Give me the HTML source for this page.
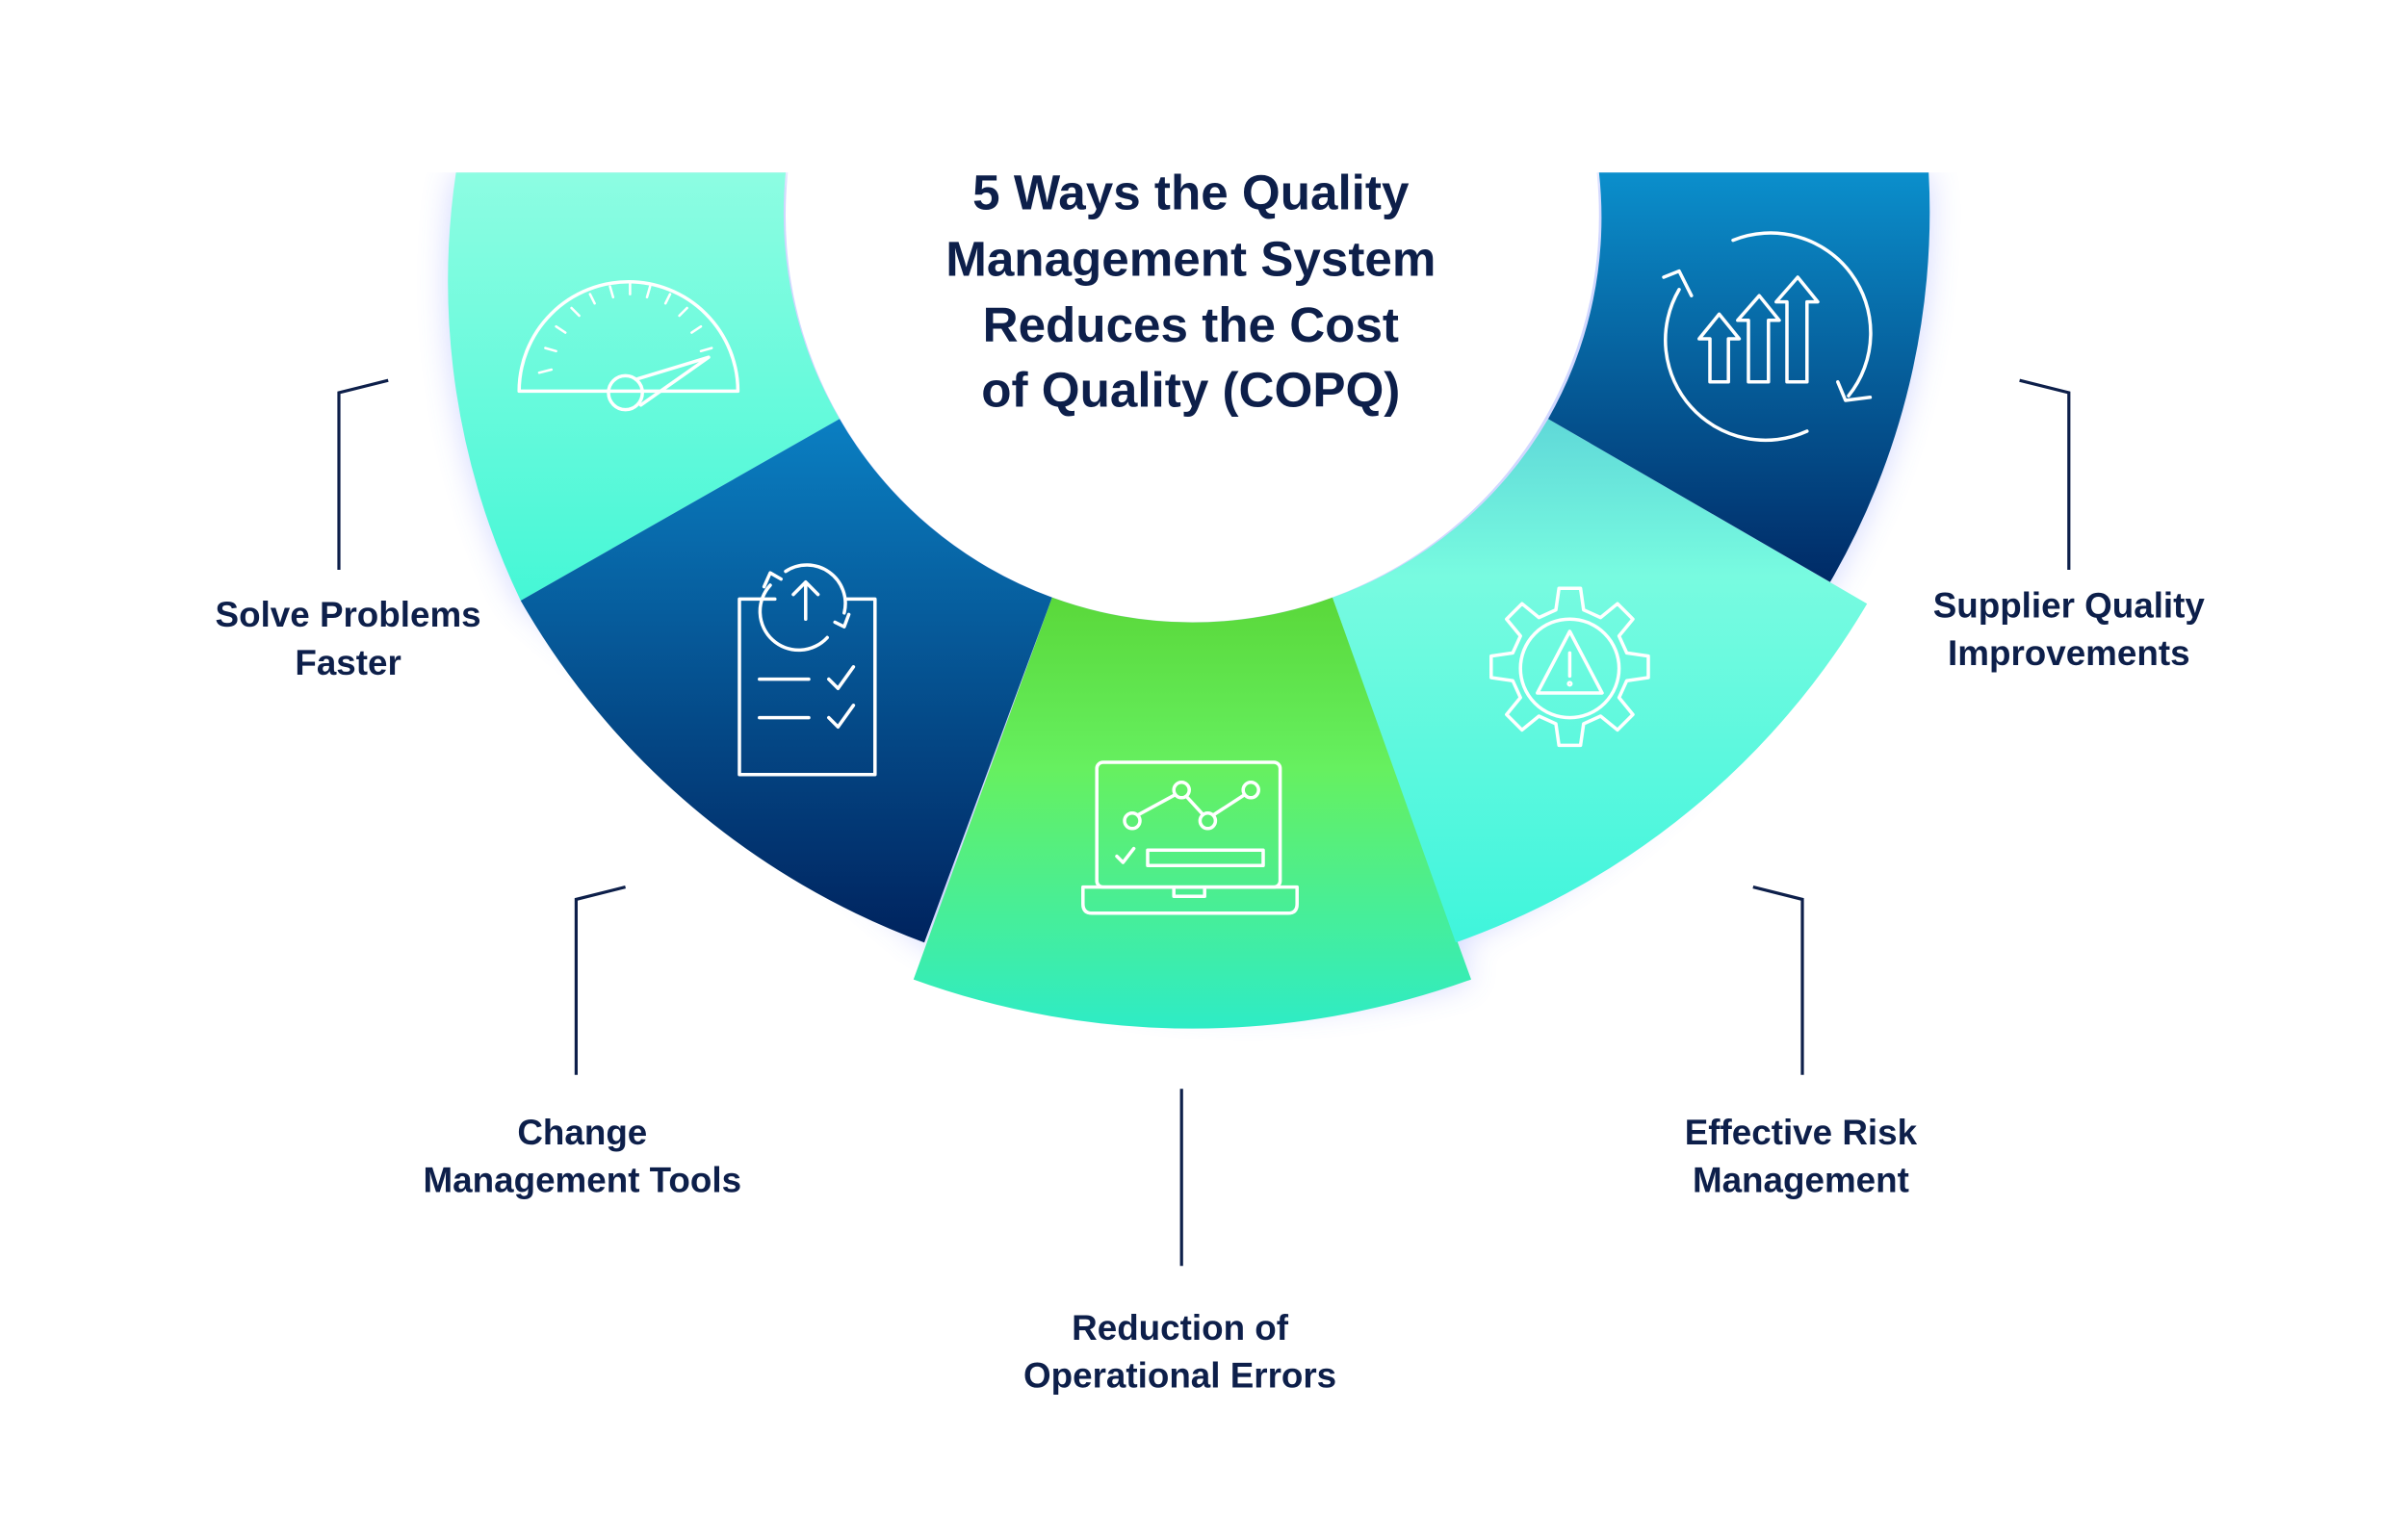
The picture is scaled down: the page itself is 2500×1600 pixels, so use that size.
<!DOCTYPE html>
<html><head><meta charset="utf-8"><style>
html,body{margin:0;padding:0;background:#fff}
svg{display:block}
text{font-family:"Liberation Sans",sans-serif;font-weight:bold;fill:#0d1f4a}
</style></head><body>
<svg width="2500" height="1600" viewBox="0 0 1562.5 1000" xmlns="http://www.w3.org/2000/svg">
<defs>
<linearGradient id="tl" x1="0" y1="0" x2="0" y2="1"><stop offset="0" stop-color="#8dfde2"/><stop offset="1" stop-color="#45f7d6"/></linearGradient>
<linearGradient id="bl" x1="0" y1="0" x2="0" y2="1"><stop offset="0" stop-color="#0a7fc2"/><stop offset="1" stop-color="#00235e"/></linearGradient>
<linearGradient id="gr" x1="0" y1="0" x2="0" y2="1"><stop offset="0" stop-color="#5ad83a"/><stop offset="0.4" stop-color="#66f060"/><stop offset="1" stop-color="#2eecc6"/></linearGradient>
<linearGradient id="tr" x1="0" y1="0" x2="0" y2="1"><stop offset="0" stop-color="#5fd8d8"/><stop offset="0.3" stop-color="#78fbe0"/><stop offset="1" stop-color="#3ff5dc"/></linearGradient>
<linearGradient id="br" x1="0" y1="0" x2="0" y2="1"><stop offset="0" stop-color="#0b8fcc"/><stop offset="1" stop-color="#002a66"/></linearGradient>
<filter id="glow" x="-20%" y="-20%" width="140%" height="140%"><feGaussianBlur stdDeviation="10"/></filter>
</defs>
<g opacity="0.3" filter="url(#glow)" fill="#6a7cff">
<path d="M296,112 A479,479 0 0 0 338,390 L600,612 A530,530 0 0 0 955,636 L945,612 A505,505 0 0 0 1188,378 A479,479 0 0 0 1252,112 Z"/>
</g>
<circle cx="774" cy="140" r="264" fill="#fff"/>
<rect x="0" y="0" width="1562.5" height="112" fill="#fff"/>
<path d="M296,112 L510,112 A264,264 0 0 0 545,272 L338,390 A479,479 0 0 1 296,112 Z" fill="url(#tl)"/>
<path d="M338,390 L545,272 A264,264 0 0 0 683,388 L600,612 A503,503 0 0 1 338,390 Z" fill="url(#bl)"/>
<path d="M683,388 A264,264 0 0 0 865,388 L955,636 A530,530 0 0 1 593,636 Z" fill="url(#gr)"/>
<path d="M865,388 A264,264 0 0 0 1005,272 L1212,392 A505,505 0 0 1 945,612 Z" fill="url(#tr)"/>
<path d="M1005,272 A264,264 0 0 0 1038,112 L1252,112 A479,479 0 0 1 1188,378 Z" fill="url(#br)"/>

<g text-anchor="middle" font-size="32">
<text x="773" y="136">5 Ways the Quality</text>
<text x="773" y="179">Management System</text>
<text x="773" y="222">Reduces the Cost</text>
<text x="773" y="264">of Quality (COPQ)</text>
</g>
<g text-anchor="middle" font-size="23">
<text x="226" y="407">Solve Problems</text><text x="226" y="438">Faster</text>
<text x="378" y="743">Change</text><text x="378" y="774">Management Tools</text>
<text x="766" y="870">Reduction of</text><text x="766" y="901">Operational Errors</text>
<text x="1169" y="743">Effective Risk</text><text x="1169" y="774">Management</text>
<text x="1343" y="401">Supplier Quality</text><text x="1343" y="432">Improvements</text>
</g>
<g fill="none" stroke="#0d1f4a" stroke-width="2">
<polyline points="252,247 220,255 220,370"/>
<polyline points="406,576 374,584 374,698"/>
<line x1="767" y1="707" x2="767" y2="822"/>
<polyline points="1138,576 1170,584 1170,698"/>
<polyline points="1311,247 1343,255 1343,370"/>
</g>
<g fill="none" stroke="#fff" stroke-width="2.2" stroke-linecap="round" stroke-linejoin="round">
<path d="M337,254 A71,71 0 0 1 479,254 Z"/>
<circle cx="406" cy="255" r="11"/>
<path d="M414,246 L460,232 L416,263"/>
<g stroke-width="1.6">
<path d="M350,242 l8,-2 M354,226 l7,2 M361,212 l6,4 M371,200 l5,5 M383,191 l3,6 M396,186 l2,7 M409,184 l0,7 M422,186 l-2,7 M435,191 l-3,6 M446,200 l-5,5 M455,212 l-6,4 M462,226 l-7,2"/>
</g>
<path d="M503,389 H480 V503 H568 V389 H550"/>
<path d="M510,371 A25,25 0 0 1 548,398 M537,414 A25,25 0 0 1 500,380"/>
<path d="M523,402 V378 M515,386 L523,378 L531,386"/>
<path d="M496,381 L500,372 L507,376 M542,404 L548,407 L551,399"/>
<path d="M493,441 H525 M538,441 l6,6 l10,-14 M493,466 H525 M538,466 l6,6 l10,-14"/>
<rect x="712" y="495" width="119" height="81" rx="4"/>
<path d="M703,576 H842 V587 Q842,593 836,593 H709 Q703,593 703,587 Z M762,576 V582 H782 V576"/>
<circle cx="735" cy="533" r="5"/><circle cx="767" cy="513" r="5"/><circle cx="784" cy="533" r="5"/><circle cx="812" cy="513" r="5"/>
<path d="M739,529 L763,516 M770,517 L781,529 M788,529 L808,516"/>
<rect x="745" y="552" width="75" height="10"/>
<path d="M725,556 l4,4 l7,-9"/>
<path d="M1012,382 h14 l2,14 l11,5 l11,-9 l10,10 l-9,11 l5,11 l14,2 v14 l-14,2 l-5,11 l9,11 l-10,10 l-11,-9 l-11,5 l-2,14 h-14 l-2,-14 l-11,-5 l-11,9 l-10,-10 l9,-11 l-5,-11 l-14,-2 v-14 l14,-2 l5,-11 l-9,-11 l10,-10 l11,9 l11,-5 Z"/>
<circle cx="1019" cy="434" r="32"/>
<path d="M1019,410 L1040,450 H998 Z"/>
<path d="M1019,424 V439"/><circle cx="1019" cy="444" r="0.8"/>
<path d="M1125,156 A65,65 0 0 1 1200,257 M1173,280 A65,65 0 0 1 1090,188"/>
<path d="M1080,180 L1090,176 L1098,192 M1193,248 L1198,260 L1214,258"/>
<path d="M1110,248 V220 H1103 L1116,204 L1129,220 H1122 V248 Z"/>
<path d="M1135,248 V208 H1128 L1142,192 L1155,208 H1148 V248 Z"/>
<path d="M1160,248 V196 H1153 L1167,180 L1180,196 H1173 V248 Z"/>
</g>
</svg>
</body></html>
